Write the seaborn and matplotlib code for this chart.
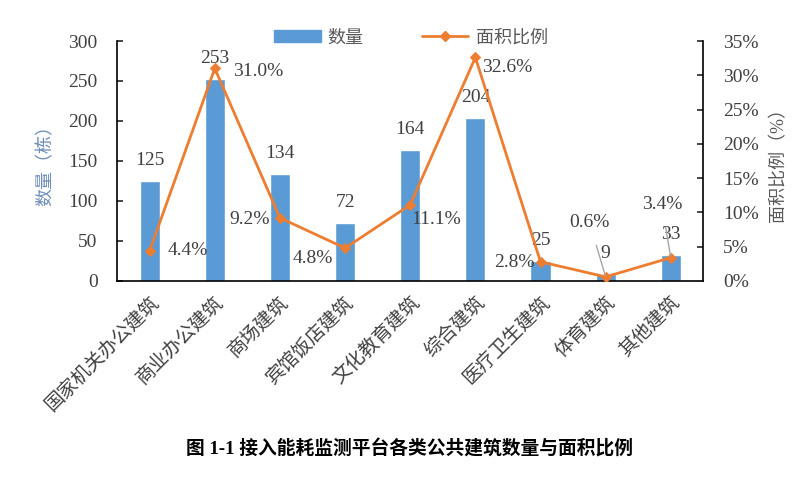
import numpy as np
import pandas as pd
import matplotlib
matplotlib.use('Agg')
import matplotlib.pyplot as plt
import seaborn as sns
from matplotlib.patches import Patch
from matplotlib.lines import Line2D

categories = ['国家机关办公建筑', '商业办公建筑', '商场建筑', '宾馆饭店建筑', '文化教育建筑',
              '综合建筑', '医疗卫生建筑', '体育建筑', '其他建筑']
counts = [125, 253, 134, 72, 164, 204, 25, 9, 33]
area_pct = [4.4, 31.0, 9.2, 4.8, 11.1, 32.6, 2.8, 0.6, 3.4]

# label offsets in pixels (dx, dy) for the percent labels
pct_offsets = [(38, 0), (43, -3), (-30, -2), (-32, -10), (26, -15), (32, -10), (-26, -1), (-16, 54), (-9, 53)]
leader = [False, False, False, False, False, False, False, True, True]

sns.set_theme(style='white')
plt.rcParams['font.family'] = ['Liberation Serif', 'Noto Sans CJK SC']
plt.rcParams['axes.unicode_minus'] = False

blue = '#5B9BD5'
orange = '#ED7D31'
txt = '#404040'

fig = plt.figure(figsize=(8.02, 4.79), dpi=100)
ax = fig.add_axes([0.146, 0.4134, 0.731, 0.501])

df = pd.DataFrame({'cat': categories, 'n': counts, 'p': area_pct})
sns.barplot(data=df, x='cat', y='n', color=blue, width=0.31, saturation=1, ax=ax)
ax.set_ylim(0, 300)
ax.set_yticks(range(0, 301, 50))
ax.set_xlim(-0.5, len(categories) - 0.5)
ax.set_xlabel('')
ax.set_ylabel('数量（栋）', color='#6E8DB8', fontsize=13, labelpad=10)

for i, v in enumerate(counts):
    ax.annotate(str(v), (i, v), xytext=(0, 12), textcoords='offset pixels',
                ha='center', va='bottom', fontsize=14, color=txt)

ax2 = ax.twinx()
x = np.arange(len(categories))
sns.lineplot(x=x, y=area_pct, ax=ax2, color=orange, marker='D', markersize=5.5,
             markeredgecolor=orange, linewidth=2)
ax2.set_ylim(0, 35)
ax2.set_yticks(range(0, 36, 5))
ax2.set_yticklabels([f'{t}%' for t in range(0, 36, 5)])
ax2.set_ylabel('面积比例（%）', color='#595959', fontsize=13, labelpad=8)
ax2.set_xlim(-0.5, len(categories) - 0.5)

for i, v in enumerate(area_pct):
    dx, dy = pct_offsets[i]
    if leader[i]:
        ax2.annotate(f'{v:.1f}%', (i, v), xytext=(dx, dy), textcoords='offset pixels',
                     ha='center', va='center', fontsize=14, color=txt,
                     arrowprops=dict(arrowstyle='-', color='#A6A6A6', lw=1,
                                     shrinkA=8, shrinkB=1))
    else:
        ax2.annotate(f'{v:.1f}%', (i, v), xytext=(dx, dy), textcoords='offset pixels',
                     ha='center', va='center', fontsize=14, color=txt)

for a in (ax, ax2):
    for s in a.spines.values():
        s.set_color('black')
        s.set_linewidth(1.2)
    a.spines['top'].set_visible(False)
    a.tick_params(axis='y', direction='in', length=4, width=1.2, labelsize=14,
                  labelcolor=txt, pad=14)
ax.spines['right'].set_visible(False)
ax2.spines['left'].set_visible(False)
ax2.spines['bottom'].set_visible(False)
ax.tick_params(axis='x', length=0, labelsize=13.8, labelcolor=txt, pad=9)
plt.setp(ax.get_xticklabels(), rotation=45, ha='right', rotation_mode='anchor')

handles = [Patch(color=blue),
           Line2D([0], [0], color=orange, lw=2, marker='D', markersize=5.5)]
fig.legend(handles, ['数量', '面积比例'], loc='center', bbox_to_anchor=(0.512, 0.921),
           ncol=2, frameon=False, fontsize=13, labelcolor='#595959',
           handlelength=2.6, handleheight=0.6, columnspacing=3.2, handletextpad=0.4)

fig.text(0.51, 0.062, '图 1-1 接入能耗监测平台各类公共建筑数量与面积比例',
         ha='center', va='center', fontsize=13.5, fontweight='bold', color='black')

fig.savefig('out.png', dpi=100)
